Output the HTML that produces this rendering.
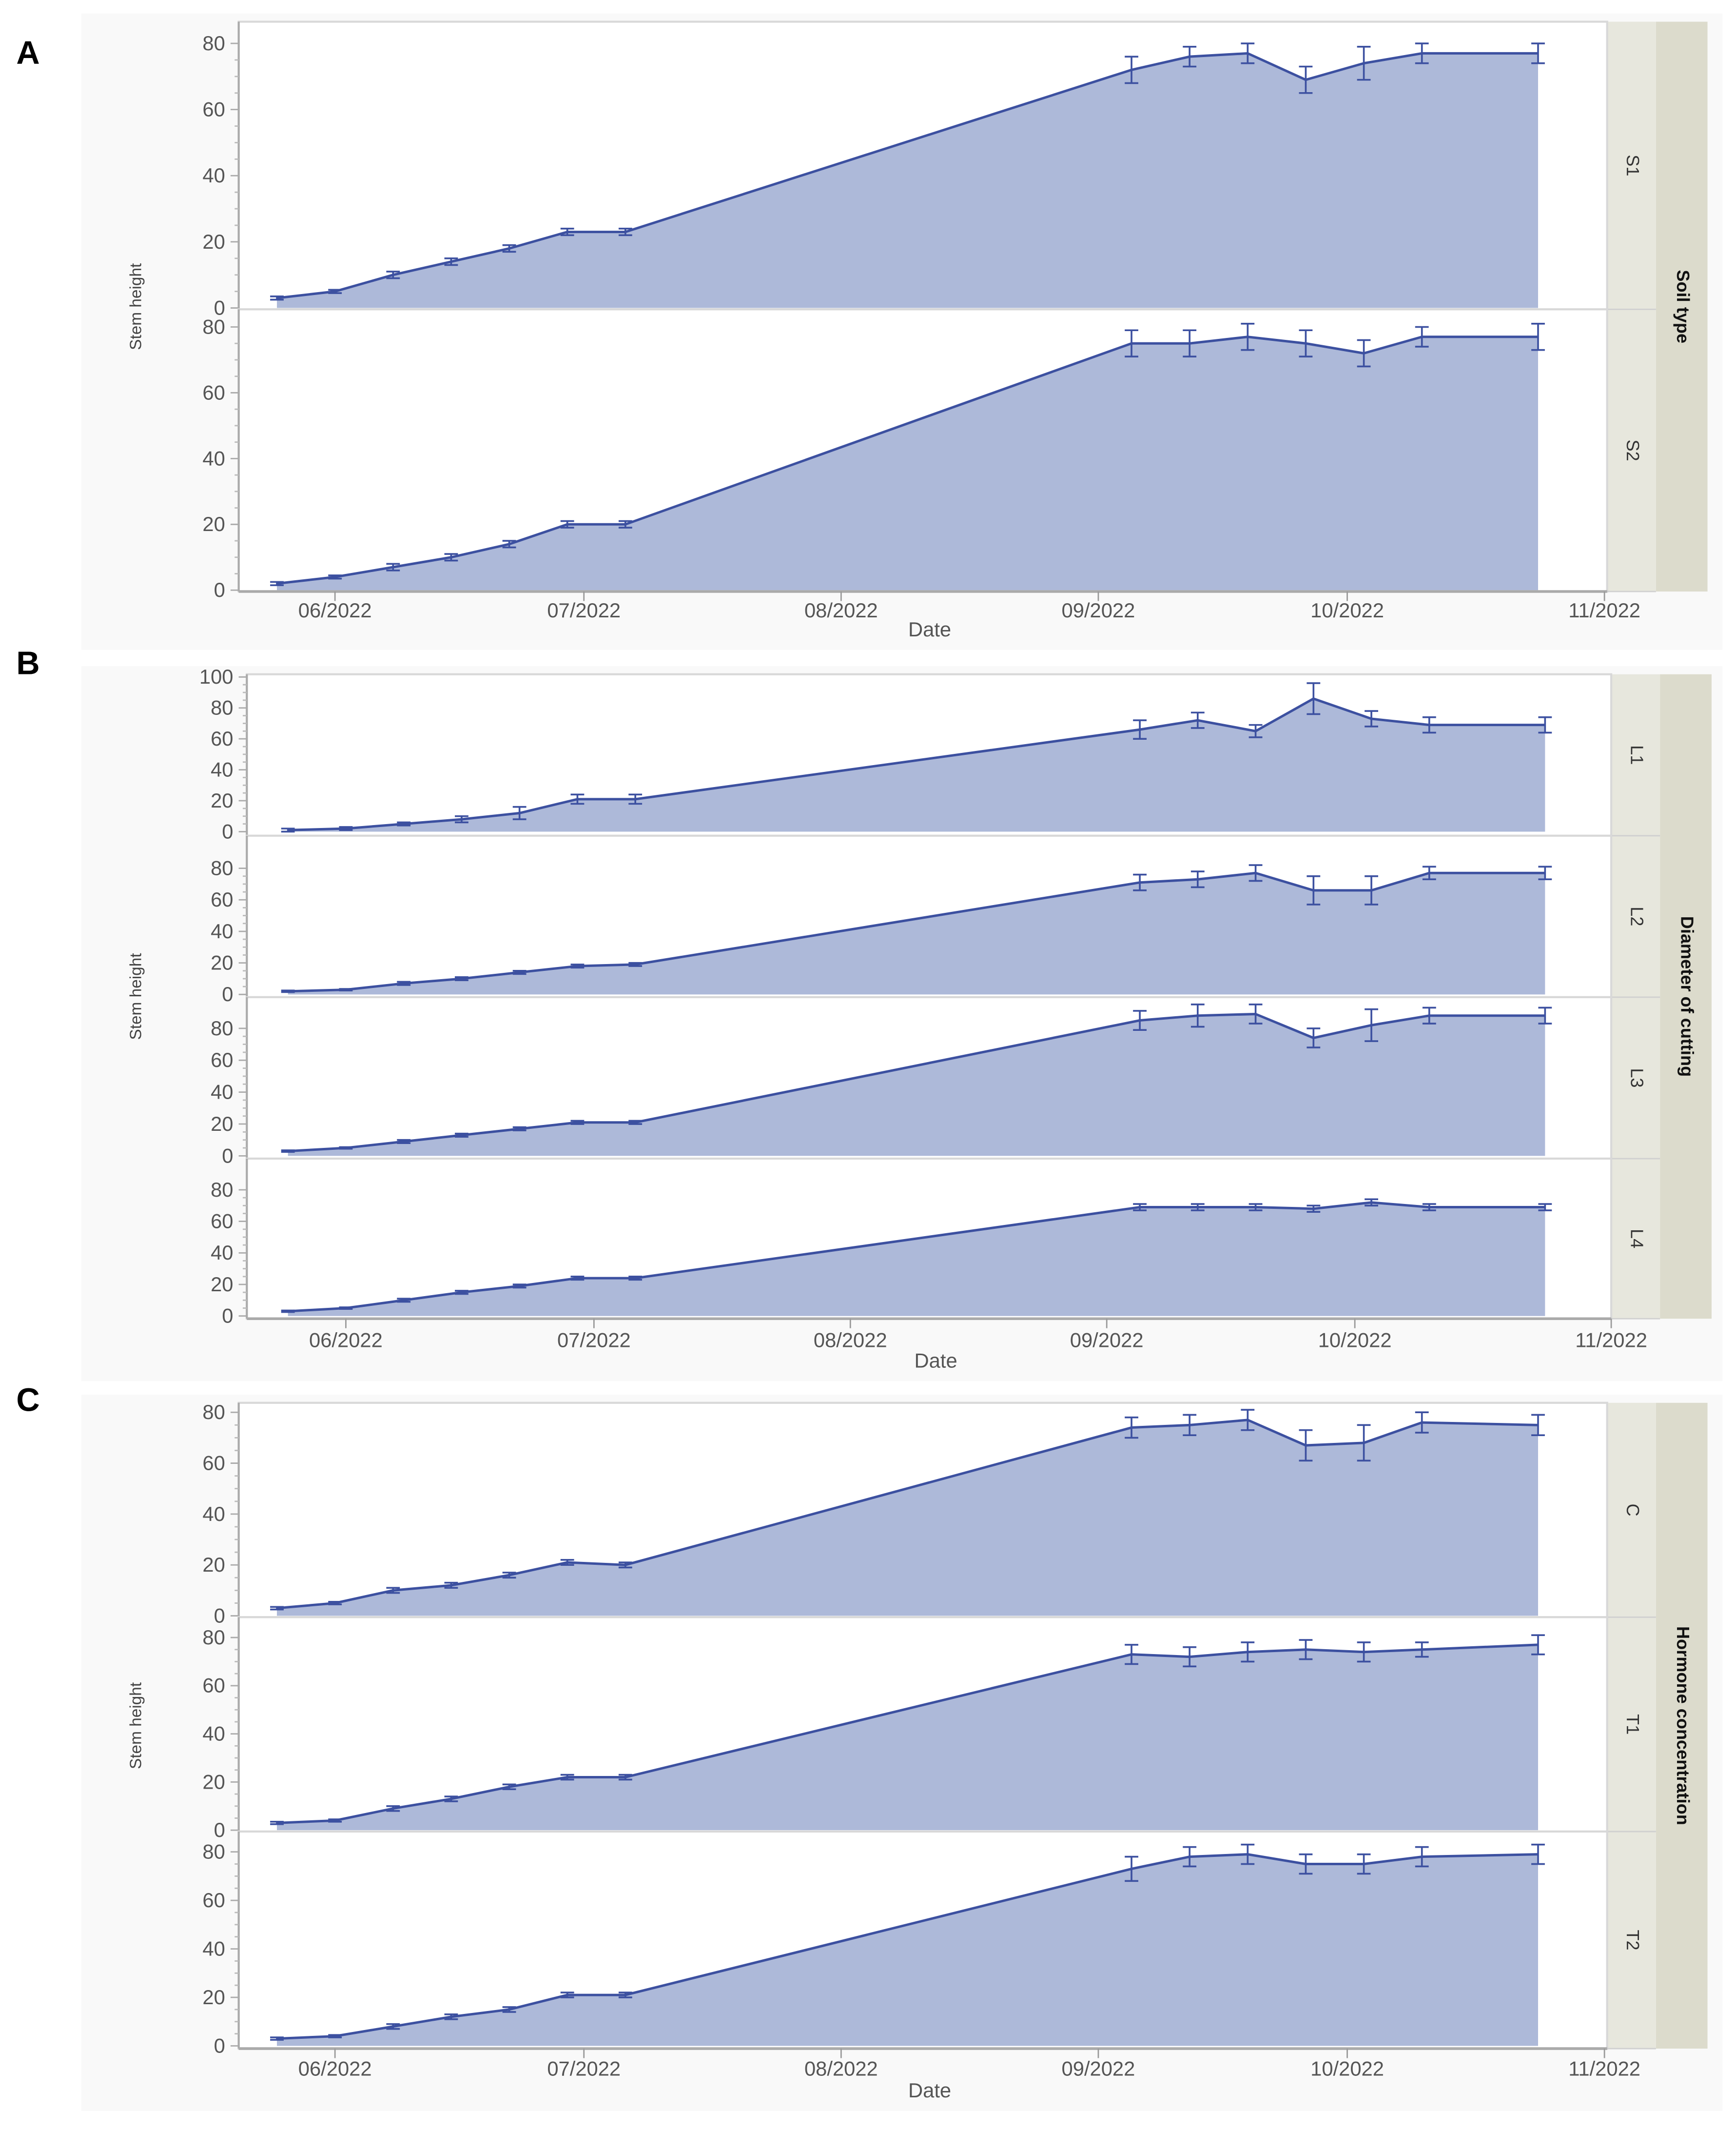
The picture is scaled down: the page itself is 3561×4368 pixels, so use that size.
<!DOCTYPE html>
<html><head><meta charset="utf-8"><style>
html,body{margin:0;padding:0;background:#fff}
svg{display:block}
text{font-family:"Liberation Sans Narrow","Liberation Sans",sans-serif}
</style></head><body>
<svg id="chart" xmlns="http://www.w3.org/2000/svg" width="3561" height="4368" viewBox="0 0 1280 1570" preserveAspectRatio="none"></svg>
<script>
const days=[-7,0,7,14,21,28,35,96,103,110,117,124,131,145];
const tickLabels=["06/2022","07/2022","08/2022","09/2022","10/2022","11/2022"];
const tickDays=[0,30,61,92,122,153];
const S1=[3,5,10,14,18,23,23,72,76,77,69,74,77,77];
const S1e=[0.5,0.5,1,1,1,1,1,4,3,3,4,5,3,3];
const S2=[2,4,7,10,14,20,20,75,75,77,75,72,77,77];
const S2e=[0.5,0.5,1,1,1,1,1,4,4,4,4,4,3,4];
const L1=[1,2,5,8,12,21,21,66,72,65,86,73,69,69];
const L1e=[1,1,1,2,4,3,3,6,5,4,10,5,5,5];
const L2=[2,3,7,10,14,18,19,71,73,77,66,66,77,77];
const L2e=[0.5,0.5,1,1,1,1,1,5,5,5,9,9,4,4];
const L3=[3,5,9,13,17,21,21,85,88,89,74,82,88,88];
const L3e=[0.5,0.5,1,1,1,1,1,6,7,6,6,10,5,5];
const L4=[3,5,10,15,19,24,24,69,69,69,68,72,69,69];
const L4e=[0.5,0.5,1,1,1,1,1,2,2,2,2,2,2,2];
const Cv=[3,5,10,12,16,21,20,74,75,77,67,68,76,75];
const Ce=[0.5,0.5,1,1,1,1,1,4,4,4,6,7,4,4];
const T1=[3,4,9,13,18,22,22,73,72,74,75,74,75,77];
const T1e=[0.5,0.5,1,1,1,1,1,4,4,4,4,4,3,4];
const T2=[3,4,8,12,15,21,21,73,78,79,75,75,78,79];
const T2e=[0.5,0.5,1,1,1,1,1,5,4,4,4,4,4,4];

const NS="http://www.w3.org/2000/svg";
const svg=document.getElementById('chart');
function el(tag,attrs,parent,txt){const e=document.createElementNS(NS,tag);for(const k in attrs)e.setAttribute(k,attrs[k]);if(txt!==undefined)e.textContent=txt;(parent||svg).appendChild(e);return e;}

const panels=[
 {letter:"A",ly:47,left:176,right:1185,x0:247,x1:1183,top:16,axisY:436,strip:"Soil type",tickY:455,dateY:469,
  panes:[{name:"S1",v:S1,e:S1e,top:16,bot:228,max:80,yMax:32,y0:227},{name:"S2",v:S2,e:S2e,top:228,bot:436,max:80,yMax:241,y0:435}]},
 {letter:"B",ly:497,left:182,right:1188,x0:255,x1:1188,top:497,axisY:972,strip:"Diameter of cutting",tickY:993,dateY:1008,
  panes:[{name:"L1",v:L1,e:L1e,top:497,bot:616,max:100,yMax:499,y0:613},{name:"L2",v:L2,e:L2e,top:616,bot:735,max:80,yMax:640,y0:733},
         {name:"L3",v:L3,e:L3e,top:735,bot:854,max:80,yMax:758,y0:852},{name:"L4",v:L4,e:L4e,top:854,bot:972,max:80,yMax:877,y0:970}]},
 {letter:"C",ly:1040,left:176,right:1185,x0:247,x1:1183,top:1034,axisY:1510,strip:"Hormone concentration",tickY:1530,dateY:1546,
  panes:[{name:"C",v:Cv,e:Ce,top:1034,bot:1192,max:80,yMax:1041,y0:1191},{name:"T1",v:T1,e:T1e,top:1192,bot:1350,max:80,yMax:1207,y0:1349},
         {name:"T2",v:T2,e:T2e,top:1350,bot:1510,max:80,yMax:1365,y0:1508}]}
];

panels.forEach(P=>{
  const g=el('g',{});
  
  
  el('rect',{x:60,y:P.top-6,width:1210,height:P.dateY-P.top+16,fill:'#f9f9f9'},g);
  const xs=d=>P.x0+(d-tickDays[0])*(P.x1-P.x0)/(tickDays[5]-tickDays[0]);
  const lt=el('text',{x:12,y:P.ly,'font-size':24,'font-weight':'bold',fill:'#000','font-family':'Liberation Sans'},g,P.letter);
  
  
  el('rect',{x:P.right,y:P.top,width:36,height:P.axisY-P.top,fill:'#e7e7dd'},g);
  el('rect',{x:P.right+36,y:P.top,width:38,height:P.axisY-P.top,fill:'#dcdbcc'},g);
  const sc=(P.top+P.axisY)/2;
  const st=el('text',{x:P.right+55,y:sc,'font-size':13,'font-weight':'bold',fill:'#111','text-anchor':'middle',transform:`rotate(90 ${P.right+55} ${sc})`,'dominant-baseline':'middle'},g,P.strip);
  
  
  P.panes.forEach(p=>{
    const pg=el('g',{},g);
    
    
    const ys=v=>p.y0+(v/p.max)*(p.yMax-p.y0);
    el('rect',{x:P.left,y:p.top,width:P.right-P.left,height:p.bot-p.top,fill:'#fff',stroke:'#d8d8d8','stroke-width':1.5},pg);
    let d=`M${xs(days[0])},${p.y0}`;
    p.v.forEach((v,i)=>{d+=`L${xs(days[i])},${ys(v)}`});
    d+=`L${xs(days[days.length-1])},${p.y0}Z`;
    const area=el('path',{d:d,fill:'#adb9d9'},pg);
    
    
    const line=el('polyline',{points:p.v.map((v,i)=>xs(days[i])+','+ys(v)).join(' '),fill:'none',stroke:'#3c50a0','stroke-width':1.8},pg);
    
    
    p.v.forEach((v,i)=>{
      const x=xs(days[i]),a=ys(v+p.e[i]),b=ys(v-p.e[i]);
      const eb=el('path',{d:`M${x},${a}L${x},${b}M${x-5},${a}L${x+5},${a}M${x-5},${b}L${x+5},${b}`,stroke:'#3c50a0','stroke-width':1.3,fill:'none'},pg);
      
      
    });
    el('line',{x1:P.left,y1:p.top,x2:P.left,y2:p.bot,stroke:'#aaa','stroke-width':1.5},pg);
    const step=20;
    for(let t=0;t<=p.max;t+=step){
      const y=ys(t);
      el('line',{x1:P.left-6,y1:y,x2:P.left,y2:y,stroke:'#aaa'},pg);
      const tl=el('text',{x:P.left-10,y:y+5,'font-size':15,fill:'#555','text-anchor':'end'},pg,String(t));
      
      
    }
    for(let t=5;t<p.max;t+=5){ if(t%step){const y=ys(t);el('line',{x1:P.left-3,y1:y,x2:P.left,y2:y,stroke:'#bbb'},pg);} }
    const cy=(p.top+p.bot)/2;
    const sl=el('text',{x:P.right+18,y:cy,'font-size':13,fill:'#333','text-anchor':'middle','dominant-baseline':'middle',transform:`rotate(90 ${P.right+18} ${cy})`},pg,p.name);
    
    
    el('line',{x1:P.left,y1:p.bot,x2:P.right+36,y2:p.bot,stroke:'#d0d0d0'},pg);
  });
  el('line',{x1:P.left,y1:P.axisY,x2:P.right,y2:P.axisY,stroke:'#aaa','stroke-width':2},g);
  tickDays.forEach((td,i)=>{
    const x=xs(td);
    el('line',{x1:x,y1:P.axisY,x2:x,y2:P.axisY+7,stroke:'#999'},g);
    const xl=el('text',{x:x,y:P.tickY,'font-size':15,fill:'#555','text-anchor':'middle'},g,tickLabels[i]);
    
    
  });
  const dt=el('text',{x:(P.left+P.right)/2+5,y:P.dateY,'font-size':15,fill:'#555','text-anchor':'middle'},g,'Date');
  
  
  const ac=(P.top+P.axisY)/2;
  const yt=el('text',{x:104,y:ac,'font-size':12,fill:'#444','text-anchor':'middle',transform:`rotate(-90 104 ${ac})`},g,'Stem height');
  
  
});
</script>
</body></html>
